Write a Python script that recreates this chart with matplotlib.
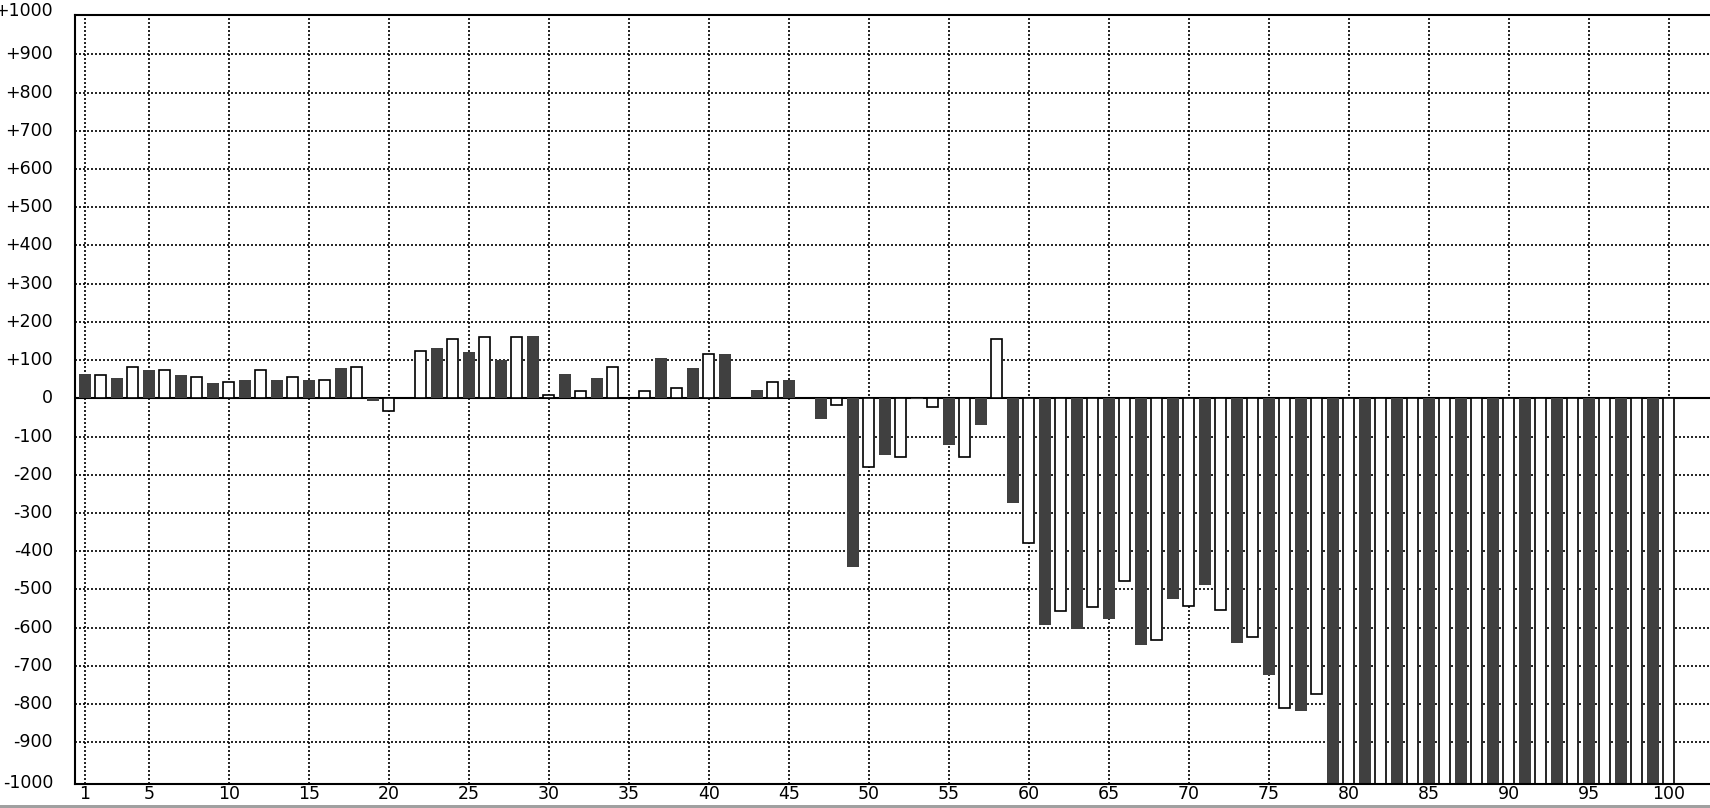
import matplotlib
matplotlib.use("Agg")
import matplotlib.pyplot as plt
import matplotlib.transforms as mtrans
from matplotlib.patches import Rectangle

# ---------------- data ----------------
positions = list(range(1, 101))
values = [
    64, 62, 54, 83, 75, 74, 60, 57, 39, 42,
    49, 74, 49, 57, 49, 47, 80, 83, -8, -33,
    0, 125, 132, 156, 121, 161, 100, 161, 163, 9,
    64, 20, 54, 83, 0, 20, 106, 26, 80, 115,
    116, 0, 22, 42, 48, 0, -55, -18, -442, -180,
    -149, -153, -3, -23, -123, -153, -71, 156, -275, -378,
    -593, -556, -604, -545, -578, -477, -645, -633, -525, -544,
    -489, -555, -640, -624, -724, -811, -818, -775, -1010, -1010,
    -1010, -1010, -1010, -1010, -1010, -1010, -1010, -1010, -1010, -1010,
    -1010, -1010, -1010, -1010, -1010, -1010, -1010, -1010, -1010, -1010,
]  # bars 79-100 run off the bottom of the scale
x_ticks = [1, 5, 10, 15, 20, 25, 30, 35, 40, 45, 50, 55, 60, 65, 70, 75, 80, 85, 90, 95, 100]
y_ticks = list(range(-1000, 1001, 100))

# ---------------- figure ----------------
W, H = 1710, 808
fig = plt.figure(figsize=(W / 100, H / 100), dpi=100)
fig.patch.set_facecolor("white")
ax_top, ax_bot, ax_left = 15.0, 784.3, 75.0
ax = fig.add_axes([ax_left / W, (H - ax_bot) / H, (W - ax_left) / W, (ax_bot - ax_top) / H])
ax.set_xlim(0.394, 102.58)
ax.set_ylim(-1010, 1003)
ax.set_facecolor("white")

DARK = "#404040"
dot = (0, (1.2, 1.2))

# grid (drawn beneath bars)
for xv in x_ticks:
    ax.axvline(xv, color="black", lw=1.2, linestyle=dot, zorder=1)
for yv in y_ticks:
    if yv in (0, y_ticks[0], y_ticks[-1]):
        continue
    ax.axhline(yv, color="black", lw=1.2, linestyle=dot, zorder=1)

ax.axhline(0, color="black", lw=1.5, zorder=1.8)

# bars: alternating dark / white outlined
dark_x = [p for i, p in enumerate(positions) if i % 2 == 0]
dark_v = [v for i, v in enumerate(values) if i % 2 == 0]
white_x = [p for i, p in enumerate(positions) if i % 2 == 1]
white_v = [v for i, v in enumerate(values) if i % 2 == 1]
ax.bar(dark_x, dark_v, width=0.75, color=DARK, linewidth=0, zorder=2)
ax.bar(white_x, white_v, width=0.72, color="white", edgecolor="black", linewidth=1.2, zorder=2)

# spines
for s in ("top", "left", "bottom"):
    ax.spines[s].set_linewidth(1.5)
    ax.spines[s].set_color("black")
    ax.spines[s].set_zorder(2.5)
ax.spines["right"].set_visible(False)
ax.set_xticks([])
ax.set_yticks([])

FS = 12.5

# y labels
ytrans = mtrans.blended_transform_factory(ax.transAxes, ax.transData)
for yv in y_ticks:
    lab = f"+{yv}" if yv > 0 else str(yv)
    dy = 0
    if yv == y_ticks[-1]:
        dy = 5
    elif yv == y_ticks[0]:
        dy = -3
    t = ytrans + mtrans.ScaledTranslation(-22 / 100, dy / 100, fig.dpi_scale_trans)
    ax.text(0, yv, lab, transform=t, ha="right", va="center",
            fontsize=FS, family="DejaVu Sans", color="black", clip_on=False)

# x labels
xtrans = mtrans.blended_transform_factory(ax.transData, ax.transAxes) + \
    mtrans.ScaledTranslation(0, -10 / 100, fig.dpi_scale_trans)
for xv in x_ticks:
    ax.text(xv, 0, str(xv), transform=xtrans, ha="center", va="center",
            fontsize=FS, family="DejaVu Sans", color="black", clip_on=False)

# grey strip at very bottom of the window
fig.add_artist(Rectangle((0, 0), 1, 3 / H, transform=fig.transFigure,
                         facecolor="#a0a0a0", edgecolor="none"))

fig.savefig("out.png", dpi=100)
